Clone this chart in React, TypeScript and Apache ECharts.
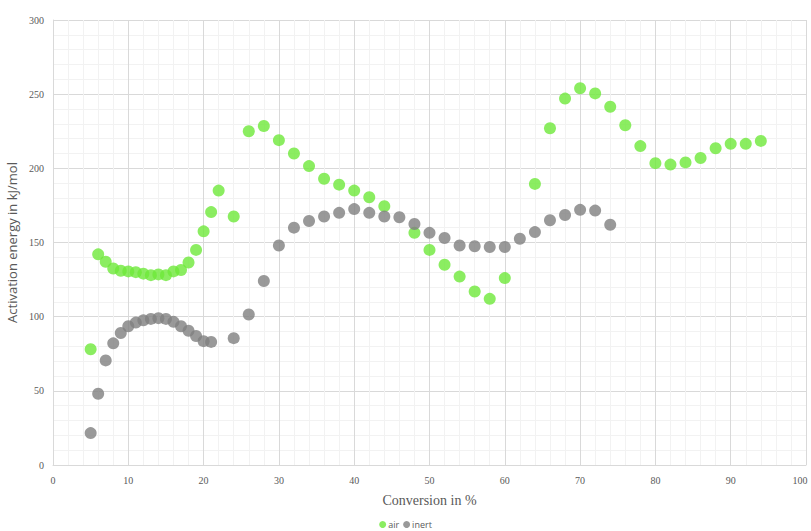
import React, { useEffect, useRef } from "react";
import * as echarts from "echarts";

const airX = [5, 6, 7, 8, 9, 10, 11, 12, 13, 14, 15, 16, 17, 18, 19, 20, 21, 22, 24, 26, 28, 30, 32, 34, 36, 38, 40, 42, 44, 48, 50, 52, 54, 56, 58, 60, 64, 66, 68, 70, 72, 74, 76, 78, 80, 82, 84, 86, 88, 90, 92, 94];
const airY = [78, 142, 137, 132.5, 131, 130.5, 130, 129, 128, 128.5, 128, 130.5, 131.5, 136.5, 145, 157.5, 170.5, 185, 167.5, 225, 228.5, 219, 210, 201.5, 193, 189, 185, 180.5, 174.5, 156.5, 145, 135, 127, 117, 112, 126, 189.5, 227, 247, 254, 250.5, 241.5, 229, 215, 203.5, 202.5, 204, 207, 213.5, 216.5, 216.5, 218.5];
const inertX = [5, 6, 7, 8, 9, 10, 11, 12, 13, 14, 15, 16, 17, 18, 19, 20, 21, 24, 26, 28, 30, 32, 34, 36, 38, 40, 42, 44, 46, 48, 50, 52, 54, 56, 58, 60, 62, 64, 66, 68, 70, 72, 74];
const inertY = [21.5, 48, 70.5, 82, 89, 93.5, 96, 97.5, 98.5, 99, 98.5, 96.5, 93.5, 90.5, 87, 83.5, 83, 85.5, 101.5, 124, 148, 160, 164.5, 167.5, 170, 172.5, 170, 167.5, 167, 162.5, 156.5, 153, 148, 147.5, 147, 147, 152.5, 157, 165, 168.5, 172, 171.5, 162];

const seriesNames = ["air", "inert"];
const xTitle = "Conversion in %";
const yTitle = "Activation energy in kJ/mol";

export default function App() {
  const ref = useRef<HTMLDivElement>(null);
  useEffect(() => {
    if (!ref.current) return;
    const chart = echarts.init(ref.current, undefined, { renderer: "svg" });
    const tickLabel = { color: "#595959", fontFamily: "Liberation Serif", fontSize: 10 };
    chart.setOption({
      animation: false,
      backgroundColor: "#ffffff",
      grid: { left: 53, top: 20, right: 5, bottom: 66, containLabel: false, outerBoundsMode: "none" },
      legend: {
        bottom: -3,
        left: "center",
        icon: "circle",
        itemWidth: 7,
        itemHeight: 7,
        itemGap: 4,
        textStyle: { color: "#595959", fontSize: 9, fontFamily: "Open Sans", padding: [0, 0, 0, -3] },
        data: seriesNames,
      },
      xAxis: {
        type: "value",
        min: 0,
        max: 100,
        interval: 10,
        name: xTitle,
        nameLocation: "middle",
        nameGap: 28,
        nameTextStyle: { color: "#595959", fontFamily: "Liberation Serif", fontSize: 14 },
        axisLine: { show: true, lineStyle: { color: "#d9d9d9" } },
        axisTick: { show: false },
        axisLabel: {
          ...tickLabel,
          margin: 10,
          formatter: (v: number) => (v === 100 ? "{r|" + v + "}" : String(v)),
          rich: { r: { ...tickLabel, padding: [0, 12, 0, 0] } },
        },
        splitLine: { show: true, lineStyle: { color: "#d9d9d9" } },
        minorTick: { show: false, splitNumber: 5 },
        minorSplitLine: { show: true, lineStyle: { color: "#f2f2f2" } },
      },
      yAxis: {
        type: "value",
        min: 0,
        max: 300,
        interval: 50,
        name: yTitle,
        nameLocation: "middle",
        nameGap: 32,
        nameTextStyle: { color: "#595959", fontFamily: "Open Sans", fontSize: 13 },
        axisLine: { show: true, lineStyle: { color: "#d9d9d9" } },
        axisTick: { show: false },
        axisLabel: { ...tickLabel, margin: 9 },
        splitLine: { show: true, lineStyle: { color: "#d9d9d9" } },
        minorTick: { show: false, splitNumber: 5 },
        minorSplitLine: { show: true, lineStyle: { color: "#f2f2f2" } },
      },
      series: [
        {
          name: seriesNames[0],
          type: "scatter",
          symbol: "circle",
          symbolSize: 12,
          itemStyle: { color: "#6ee83a" },
          data: airX.map((x, i) => [x, airY[i]]),
        },
        {
          name: seriesNames[1],
          type: "scatter",
          symbol: "circle",
          symbolSize: 12,
          itemStyle: { color: "#7f7f7f" },
          data: inertX.map((x, i) => [x, inertY[i]]),
        },
      ],
    });
    return () => chart.dispose();
  }, []);
  return <div ref={ref} style={{ width: 811, height: 531, position: "fixed", left: 0, top: 0 }} />;
}
